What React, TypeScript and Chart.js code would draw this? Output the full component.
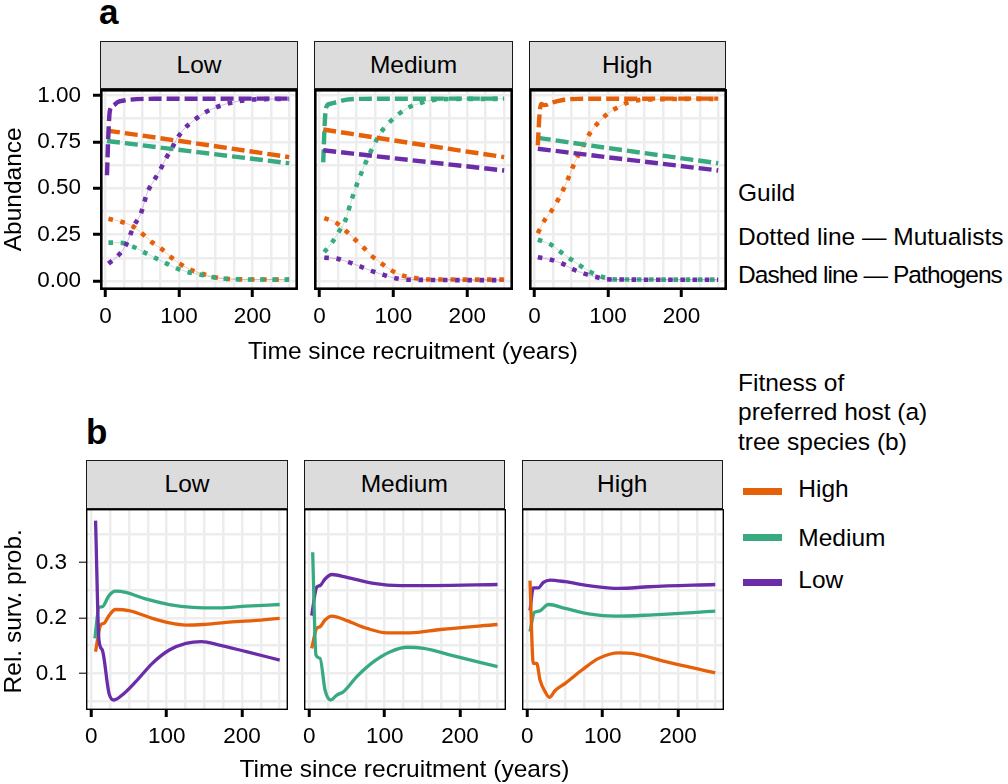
import React, { useEffect, useRef } from "react";
import { Chart, registerables } from "chart.js";

Chart.register(...registerables);

type Pt = [number, number];

const FONT = '"Liberation Sans", Arial, Helvetica, sans-serif';
const ORANGE = "#E6600A";
const GREEN = "#38AA80";
const PURPLE = "#6B2CA8";
const GRID = "#EDEDED";

const FACETS = ["Low", "Medium", "High"];
const FITNESS = ["High", "Medium", "Low"];
const X_GRID = [0, 25, 50, 75, 100, 125, 150, 175, 200, 225, 250];
const X_MAJOR = [0, 100, 200];
const A_Y_GRID = [0, 0.125, 0.25, 0.375, 0.5, 0.625, 0.75, 0.875, 1];
const A_Y_MAJOR = [0, 0.25, 0.5, 0.75, 1];
const B_Y_GRID = [0.05, 0.1, 0.15, 0.2, 0.25, 0.3, 0.35];
const B_Y_MAJOR = [0.1, 0.2, 0.3];

// ---- Panel a: abundance; facet = fitness of preferred host ----
// facet Low
const A_LOW_PATH_HIGH: Pt[] = [[2, 0.811], [125, 0.741], [250, 0.668]];
const A_LOW_PATH_MED: Pt[] = [[2, 0.755], [125, 0.695], [250, 0.635]];
const A_LOW_PATH_LOW: Pt[] = [[2, 0.57], [4, 0.8], [6, 0.92], [11, 0.946], [16, 0.963], [25, 0.973], [34, 0.978], [60, 0.982], [250, 0.983]];
const A_LOW_MUT_HIGH: Pt[] = [[4, 0.336], [23, 0.318], [39, 0.291], [50, 0.255], [63, 0.21], [76, 0.174], [89, 0.129], [101, 0.094], [116, 0.061], [131, 0.04], [147, 0.022], [163, 0.013], [190, 0.009], [250, 0.008]];
const A_LOW_MUT_MED: Pt[] = [[4, 0.207], [20, 0.207], [36, 0.188], [52, 0.156], [67, 0.126], [82, 0.097], [96, 0.07], [113, 0.048], [130, 0.034], [144, 0.022], [163, 0.013], [190, 0.009], [250, 0.008]];
const A_LOW_MUT_LOW: Pt[] = [[4, 0.094], [16, 0.133], [27, 0.189], [39, 0.3], [48, 0.363], [57, 0.479], [66, 0.542], [74.5, 0.6], [82, 0.659], [90, 0.713], [98, 0.772], [107, 0.82], [120, 0.865], [134, 0.905], [149, 0.934], [165, 0.955], [181, 0.969], [200, 0.978], [250, 0.982]];
// facet Medium
const A_MED_PATH_HIGH: Pt[] = [[5, 0.817], [125, 0.743], [250, 0.668]];
const A_MED_PATH_MED: Pt[] = [[5, 0.64], [7, 0.85], [9, 0.935], [14, 0.955], [24, 0.965], [37, 0.978], [60, 0.982], [250, 0.983]];
const A_MED_PATH_LOW: Pt[] = [[5, 0.705], [125, 0.651], [250, 0.596]];
const A_MED_MUT_HIGH: Pt[] = [[6.4, 0.339], [21, 0.318], [35, 0.273], [47, 0.228], [59, 0.183], [70, 0.138], [83.3, 0.097], [96, 0.061], [111.8, 0.031], [127.6, 0.018], [143.4, 0.009], [250, 0.008]];
const A_MED_MUT_MED: Pt[] = [[6.4, 0.156], [16.8, 0.207], [25.8, 0.264], [34.9, 0.327], [43.9, 0.444], [55.2, 0.569], [67.9, 0.686], [82.4, 0.797], [93.7, 0.851], [106, 0.896], [119, 0.932], [136.6, 0.959], [150, 0.973], [175, 0.981], [250, 0.982]];
const A_MED_MUT_LOW: Pt[] = [[6.4, 0.126], [23.6, 0.121], [39.4, 0.102], [55, 0.079], [71, 0.054], [84.6, 0.036], [100, 0.018], [118, 0.0075], [250, 0.005]];
// facet High
const A_HIGH_PATH_HIGH: Pt[] = [[4.5, 0.731], [6.5, 0.88], [9, 0.955], [13, 0.948], [17, 0.95], [22, 0.96], [30, 0.968], [40, 0.977], [60, 0.982], [250, 0.983]];
const A_HIGH_PATH_MED: Pt[] = [[4.5, 0.772], [125, 0.703], [250, 0.635]];
const A_HIGH_PATH_LOW: Pt[] = [[4.5, 0.713], [125, 0.655], [250, 0.596]];
const A_HIGH_MUT_HIGH: Pt[] = [[4.5, 0.258], [13.5, 0.327], [22.6, 0.375], [31.6, 0.435], [39, 0.492], [46, 0.555], [54, 0.632], [65, 0.722], [75.4, 0.797], [86, 0.85], [99, 0.9], [115, 0.94], [129, 0.965], [150, 0.978], [250, 0.982]];
const A_HIGH_MUT_MED: Pt[] = [[4.5, 0.223], [22.6, 0.196], [36, 0.156], [49.6, 0.117], [63, 0.081], [76.7, 0.048], [92.5, 0.022], [108, 0.009], [250, 0.008]];
const A_HIGH_MUT_LOW: Pt[] = [[4.5, 0.129], [22.6, 0.115], [38, 0.094], [54, 0.061], [67.7, 0.04], [83.5, 0.022], [99, 0.009], [250, 0.007]];

// ---- Panel b: relative survival probability; facet = fitness of tree species ----
const B_LOW_HIGH: Pt[] = [[5.7, 0.139], [12.4, 0.187], [16.8, 0.19], [23.5, 0.204], [32, 0.215], [50, 0.213], [81, 0.199], [103.5, 0.191], [125.7, 0.187], [148, 0.188], [179, 0.192], [215, 0.195], [250, 0.199]];
const B_LOW_MED: Pt[] = [[4.8, 0.163], [10.2, 0.219], [14.6, 0.22], [23.5, 0.24], [32, 0.248], [45.7, 0.246], [72, 0.234], [103.5, 0.224], [134.6, 0.219], [170, 0.218], [205.7, 0.221], [250, 0.224]];
const B_LOW_LOW: Pt[] = [[5.7, 0.375], [10.2, 0.16], [14.6, 0.142], [23.5, 0.064], [30.2, 0.052], [41, 0.061], [59, 0.085], [81, 0.118], [103.5, 0.142], [125.7, 0.154], [146, 0.157], [170, 0.151], [205.7, 0.139], [250, 0.124]];
const B_MED_HIGH: Pt[] = [[3.2, 0.145], [9.8, 0.181], [14.3, 0.184], [20.9, 0.196], [30, 0.203], [49.8, 0.195], [76.5, 0.181], [103, 0.173], [134, 0.173], [174, 0.179], [249.8, 0.188]];
const B_MED_MED: Pt[] = [[4.5, 0.318], [8.9, 0.133], [14.3, 0.127], [20.9, 0.07], [28.5, 0.052], [36.5, 0.061], [45.4, 0.067], [63, 0.094], [85.4, 0.121], [107.6, 0.139], [129.8, 0.147], [152, 0.145], [187.6, 0.133], [249.8, 0.112]];
const B_MED_LOW: Pt[] = [[3.2, 0.204], [9.8, 0.255], [14.3, 0.258], [20.9, 0.27], [30, 0.278], [49.8, 0.273], [85.4, 0.262], [121, 0.258], [165.5, 0.258], [249.8, 0.26]];
const B_HIGH_HIGH: Pt[] = [[3.6, 0.267], [8, 0.118], [12.5, 0.118], [16.9, 0.088], [23.6, 0.067], [29.4, 0.057], [37, 0.069], [50.3, 0.082], [72.5, 0.106], [94.7, 0.127], [121.4, 0.137], [139, 0.136], [183.6, 0.121], [249.4, 0.101]];
const B_HIGH_MED: Pt[] = [[3.6, 0.175], [9.4, 0.21], [15.6, 0.212], [28, 0.224], [50.3, 0.217], [81.4, 0.207], [117, 0.203], [161.4, 0.205], [249.4, 0.212]];
const B_HIGH_LOW: Pt[] = [[3.6, 0.213], [8, 0.254], [14.7, 0.254], [21.4, 0.264], [30.2, 0.268], [50.3, 0.265], [81.4, 0.258], [121.4, 0.253], [161.4, 0.256], [249.4, 0.26]];

type Kind = "dash" | "dot" | "solid";
type Series = { pts: Pt[]; color: string; kind: Kind };
type PanelDef = {
  left: number; right: number; top: number; bottom: number;
  xMin: number; xMax: number; yMin: number; yMax: number;
  row: "a" | "b"; showY: boolean; series: Series[];
};

const A_ROW = { top: 89, bottom: 290, xMin: -7.5, xMax: 262, yMin: -0.048, yMax: 1.035 };
const B_ROW = { top: 509, bottom: 710, xMin: -7, xMax: 261, yMin: 0.034, yMax: 0.396 };
const A_COLS = [[100, 298], [314, 513], [528.5, 726]];
const B_COLS = [[86, 288], [303.5, 505], [521.5, 723]];

const A_SERIES: Series[][] = [
  [
    { pts: A_LOW_MUT_HIGH, color: ORANGE, kind: "dot" },
    { pts: A_LOW_MUT_MED, color: GREEN, kind: "dot" },
    { pts: A_LOW_MUT_LOW, color: PURPLE, kind: "dot" },
    { pts: A_LOW_PATH_HIGH, color: ORANGE, kind: "dash" },
    { pts: A_LOW_PATH_MED, color: GREEN, kind: "dash" },
    { pts: A_LOW_PATH_LOW, color: PURPLE, kind: "dash" },
  ],
  [
    { pts: A_MED_MUT_HIGH, color: ORANGE, kind: "dot" },
    { pts: A_MED_MUT_MED, color: GREEN, kind: "dot" },
    { pts: A_MED_MUT_LOW, color: PURPLE, kind: "dot" },
    { pts: A_MED_PATH_HIGH, color: ORANGE, kind: "dash" },
    { pts: A_MED_PATH_MED, color: GREEN, kind: "dash" },
    { pts: A_MED_PATH_LOW, color: PURPLE, kind: "dash" },
  ],
  [
    { pts: A_HIGH_MUT_HIGH, color: ORANGE, kind: "dot" },
    { pts: A_HIGH_MUT_MED, color: GREEN, kind: "dot" },
    { pts: A_HIGH_MUT_LOW, color: PURPLE, kind: "dot" },
    { pts: A_HIGH_PATH_MED, color: GREEN, kind: "dash" },
    { pts: A_HIGH_PATH_LOW, color: PURPLE, kind: "dash" },
    { pts: A_HIGH_PATH_HIGH, color: ORANGE, kind: "dash" },
  ],
];

const B_SERIES: Series[][] = [
  [
    { pts: B_LOW_HIGH, color: ORANGE, kind: "solid" },
    { pts: B_LOW_MED, color: GREEN, kind: "solid" },
    { pts: B_LOW_LOW, color: PURPLE, kind: "solid" },
  ],
  [
    { pts: B_MED_HIGH, color: ORANGE, kind: "solid" },
    { pts: B_MED_LOW, color: PURPLE, kind: "solid" },
    { pts: B_MED_MED, color: GREEN, kind: "solid" },
  ],
  [
    { pts: B_HIGH_MED, color: GREEN, kind: "solid" },
    { pts: B_HIGH_LOW, color: PURPLE, kind: "solid" },
    { pts: B_HIGH_HIGH, color: ORANGE, kind: "solid" },
  ],
];

const PANELS: PanelDef[] = [
  ...A_COLS.map((c, i) => ({ left: c[0], right: c[1], ...A_ROW, row: "a" as const, showY: i === 0, series: A_SERIES[i] })),
  ...B_COLS.map((c, i) => ({ left: c[0], right: c[1], ...B_ROW, row: "b" as const, showY: i === 0, series: B_SERIES[i] })),
];

function rgba(hex: string, a: number) {
  const n = parseInt(hex.slice(1), 16);
  return `rgba(${(n >> 16) & 255},${(n >> 8) & 255},${n & 255},${a})`;
}
const isIn = (arr: number[], v: any) => typeof v === "number" && arr.some((m) => Math.abs(m - v) < 1e-9);

function Panel({ def }: { def: PanelDef }) {
  const ref = useRef<HTMLCanvasElement>(null);
  const padL = def.showY ? 95 : 12;
  const padR = 8;
  const padT = 14;
  const padB = 50;
  const W = Math.round(def.right - def.left + padL + padR);
  const H = Math.round(def.bottom - def.top + padT + padB);

  useEffect(() => {
    if (!ref.current) return;
    const isA = def.row === "a";
    const yGrid = isA ? A_Y_GRID : B_Y_GRID;
    const yMajor = isA ? A_Y_MAJOR : B_Y_MAJOR;
    const datasets: any[] = [];
    def.series.forEach((s) => {
      const data = s.pts.map(([x, y]) => ({ x, y }));
      if (s.kind === "dot") {
        datasets.push({
          data, borderColor: rgba(s.color, 0.3), borderWidth: 1, pointRadius: 0,
          cubicInterpolationMode: "monotone", fill: false,
        });
      }
      datasets.push({
        data,
        borderColor: s.color,
        borderWidth: s.kind === "solid" ? 3.3 : s.kind === "dot" ? 4.6 : 4.4,
        borderDash: s.kind === "dash" ? [13, 5] : s.kind === "dot" ? [4.6, 7.6] : [],
        borderCapStyle: "butt",
        borderJoinStyle: "round",
        pointRadius: 0,
        cubicInterpolationMode: "monotone",
        fill: false,
      });
    });
    datasets.reverse();
    const borderW = isA ? 2.6 : 1.4;
    const chart = new Chart(ref.current, {
      type: "line",
      data: { datasets },
      options: {
        animation: false,
        responsive: false,
        maintainAspectRatio: false,
        events: [],
        layout: { padding: { left: def.showY ? 0 : padL, right: padR, top: padT, bottom: 0 } },
        plugins: { legend: { display: false }, tooltip: { enabled: false } },
        scales: {
          x: {
            type: "linear",
            min: def.xMin,
            max: def.xMax,
            afterBuildTicks: (s: any) => { s.ticks = X_GRID.map((v) => ({ value: v })); },
            afterFit: (s: any) => { s.height = padB; s.paddingLeft = 0; s.paddingRight = 0; },
            ticks: {
              autoSkip: false, maxRotation: 0, minRotation: 0, padding: 6, color: "#000",
              font: { family: FONT, size: 22.5 },
              callback: (v: any) => (isIn(X_MAJOR, Number(v)) ? String(v) : ""),
            },
            grid: {
              color: GRID, lineWidth: 2.5, drawTicks: true, tickLength: 7, tickWidth: 3,
              tickColor: (c: any) => (isIn(X_MAJOR, c.tick?.value) ? "#000" : "rgba(0,0,0,0)"),
            },
            border: { display: false },
          },
          y: {
            type: "linear",
            min: def.yMin,
            max: def.yMax,
            afterBuildTicks: (s: any) => { s.ticks = yGrid.map((v) => ({ value: v })); },
            afterFit: (s: any) => { s.width = def.showY ? padL : 0; s.paddingTop = 0; s.paddingBottom = 0; },
            ticks: {
              display: def.showY, autoSkip: false, padding: 12, color: "#000",
              font: { family: FONT, size: 22.5 },
              callback: (v: any) => (isIn(yMajor, Number(v)) ? Number(v).toFixed(isA ? 2 : 1) : ""),
            },
            grid: {
              color: GRID, lineWidth: 2.5, drawTicks: def.showY, tickLength: 7, tickWidth: isA ? 3 : 1.3,
              tickColor: (c: any) => (isIn(yMajor, c.tick?.value) ? (isA ? "#000" : "#333") : "rgba(0,0,0,0)"),
            },
            border: { display: false },
          },
        },
      } as any,
      plugins: [
        {
          id: "panelBorder",
          afterDatasetsDraw(ch: any) {
            const { ctx, chartArea: a } = ch;
            ctx.save();
            ctx.strokeStyle = "#000";
            ctx.lineWidth = borderW;
            ctx.strokeRect(a.left + borderW / 2, a.top + borderW / 2, a.right - a.left - borderW, a.bottom - a.top - borderW);
            ctx.restore();
          },
        },
      ],
    });
    return () => chart.destroy();
  }, []);

  return (
    <canvas
      ref={ref}
      width={W}
      height={H}
      style={{ position: "absolute", left: def.left - padL, top: def.top - padT, width: W, height: H }}
    />
  );
}

function Txt({ x, baseline, size = 24.5, bold = false, align = "left", spacing = 0, children }: any) {
  const style: any = {
    position: "absolute",
    top: baseline - 0.8465 * size,
    fontSize: size,
    lineHeight: `${size}px`,
    fontFamily: FONT,
    fontWeight: bold ? 700 : 400,
    whiteSpace: "nowrap",
    letterSpacing: spacing,
    color: "#000",
  };
  if (align === "center") {
    style.left = x - 400;
    style.width = 800;
    style.textAlign = "center";
  } else {
    style.left = x;
  }
  return <div style={style}>{children}</div>;
}

function VTxt({ baselineX, cy, size = 24.5, children }: any) {
  const cx = baselineX - 0.3465 * size;
  return (
    <div
      style={{
        position: "absolute",
        left: cx - 200,
        top: cy - size / 2,
        width: 400,
        height: size,
        lineHeight: `${size}px`,
        fontSize: size,
        fontFamily: FONT,
        textAlign: "center",
        transform: "rotate(-90deg)",
        transformOrigin: "50% 50%",
        whiteSpace: "nowrap",
        color: "#000",
      }}
    >
      {children}
    </div>
  );
}

function Strip({ left, right, top, bottom, label }: any) {
  const h = bottom - top;
  return (
    <div
      style={{
        position: "absolute",
        left,
        top,
        width: right - left,
        height: h,
        boxSizing: "border-box",
        border: "1.3px solid #1a1a1a",
        background: "#DCDCDC",
        fontFamily: FONT,
        fontSize: 24.5,
        lineHeight: `${h - 2.6}px`,
        textAlign: "center",
        color: "#000",
        whiteSpace: "nowrap",
      }}
    >
      {label}
    </div>
  );
}

const LEGEND_COLORS = [ORANGE, GREEN, PURPLE];
const LEGEND_KEY_Y = [491.3, 537.3, 582];
const LEGEND_TEXT_BASE = [497.7, 546.7, 588.3];

export default function App() {
  return (
    <div style={{ position: "absolute", left: 0, top: 0, width: 1008, height: 784, background: "#fff", overflow: "hidden" }}>
      <Txt x={99} baseline={23.3} size={35} bold>a</Txt>
      <Txt x={86} baseline={443.3} size={35} bold>b</Txt>
      {A_COLS.map((c, i) => (
        <Strip key={"sa" + i} left={c[0]} right={c[1]} top={40.7} bottom={89.5} label={FACETS[i]} />
      ))}
      {B_COLS.map((c, i) => (
        <Strip key={"sb" + i} left={c[0]} right={c[1]} top={460} bottom={509.3} label={FACETS[i]} />
      ))}
      {PANELS.map((p, i) => (
        <Panel key={i} def={p} />
      ))}
      <VTxt baselineX={21} cy={189}>Abundance</VTxt>
      <VTxt baselineX={21} cy={611}>Rel. surv. prob.</VTxt>
      <Txt x={413} baseline={359.4} align="center">Time since recruitment (years)</Txt>
      <Txt x={404.5} baseline={777.5} align="center">Time since recruitment (years)</Txt>

      <Txt x={738} baseline={201.7}>Guild</Txt>
      <Txt x={738} baseline={246}>Dotted line — Mutualists</Txt>
      <Txt x={738} baseline={283.3} spacing={-0.9}>Dashed line — Pathogens</Txt>

      <Txt x={738} baseline={391.7}>Fitness of</Txt>
      <Txt x={738} baseline={421.2}>preferred host (a)</Txt>
      <Txt x={738} baseline={450.8}>tree species (b)</Txt>
      {FITNESS.map((f, i) => (
        <React.Fragment key={f}>
          <div style={{ position: "absolute", left: 743, top: LEGEND_KEY_Y[i] - 3.5, width: 39, height: 7, background: LEGEND_COLORS[i] }} />
          <Txt x={798.3} baseline={LEGEND_TEXT_BASE[i]}>{f}</Txt>
        </React.Fragment>
      ))}
    </div>
  );
}
